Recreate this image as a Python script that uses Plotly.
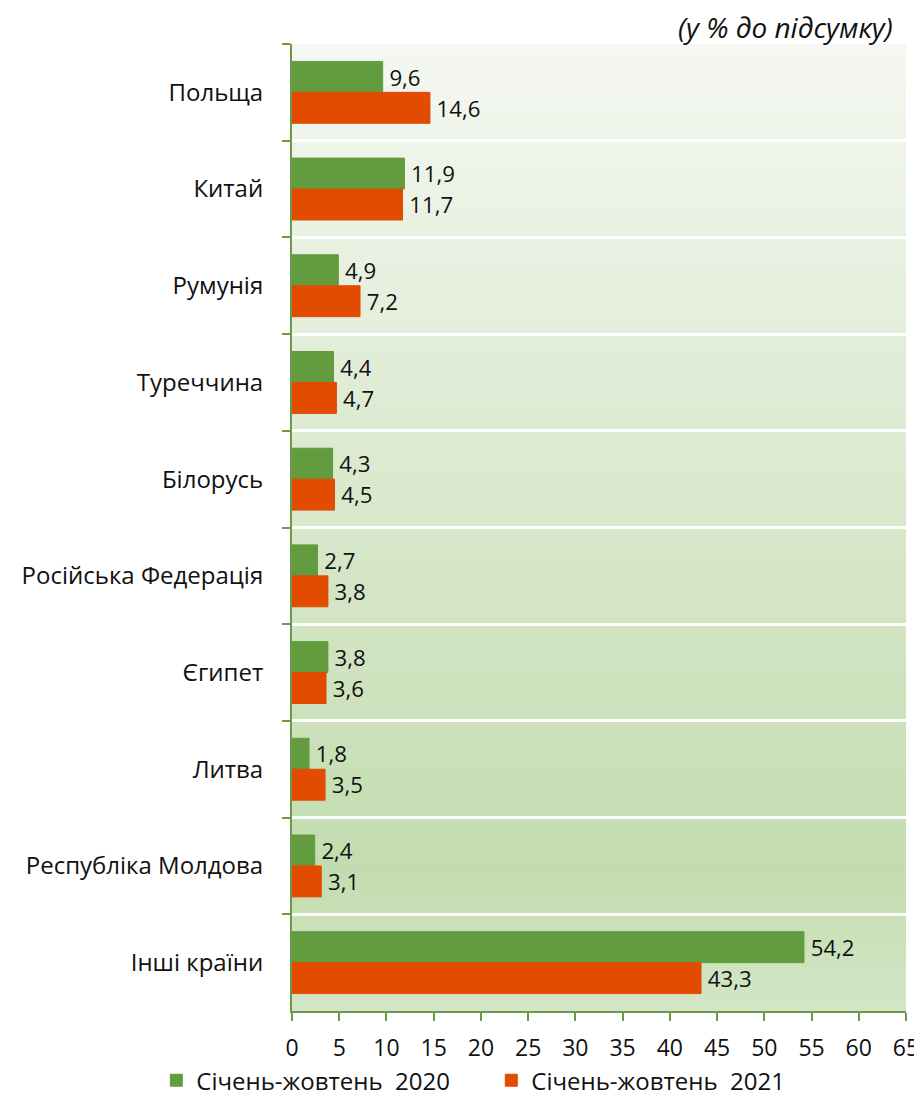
import plotly.graph_objects as go

# ── Data ──────────────────────────────────────────────────────────────────
countries = [
    "Польща", "Китай", "Румунія", "Туреччина", "Білорусь",
    "Російська Федерація", "Єгипет", "Литва", "Республіка Молдова", "Інші країни",
]
share_2020 = [9.6, 11.9, 4.9, 4.4, 4.3, 2.7, 3.8, 1.8, 2.4, 54.2]
share_2021 = [14.6, 11.7, 7.2, 4.7, 4.5, 3.8, 3.6, 3.5, 3.1, 43.3]
series_names = ["Січень-жовтень  2020", "Січень-жовтень  2021"]

GREEN = "#639b3f"
ORANGE = "#e24b00"
AXIS = "#6a9a48"
FONT = "'Open Sans', sans-serif"
FS = 24


def fmt(v):
    return "\u2009" + f"{v:.1f}".replace(".", ",")


def mix(c1, c2, t):
    a = [int(c1[i:i + 2], 16) for i in (1, 3, 5)]
    b = [int(c2[i:i + 2], 16) for i in (1, 3, 5)]
    return "#" + "".join(f"{round(x + (y - x) * t):02x}" for x, y in zip(a, b))


def bg_color(t):
    # t = 0 at top of plot area, 1 at bottom
    stops = [(0.0, "#f5f8f2"), (0.85, "#c3dcaf"), (1.0, "#d3e6c6")]
    for (t0, c0), (t1, c1) in zip(stops, stops[1:]):
        if t <= t1:
            return mix(c0, c1, (t - t0) / (t1 - t0))
    return stops[-1][1]


fig = go.Figure()

for name, vals, color in [(series_names[0], share_2020, GREEN),
                          (series_names[1], share_2021, ORANGE)]:
    fig.add_trace(go.Bar(
        y=countries,
        x=vals,
        orientation="h",
        name=name,
        marker=dict(color=color, line=dict(color=color, width=1)),
        text=[fmt(v) for v in vals],
        textposition="outside",
        textfont=dict(size=23, color="#111111", family=FONT),
        cliponaxis=False,
    ))

# gradient plot background as thin strips
N = 160
shapes = []
for i in range(N):
    shapes.append(dict(
        type="rect", xref="x domain", yref="y domain", layer="below",
        x0=0, x1=1, y0=1 - i / N, y1=1 - (i + 1) / N - 0.001,
        fillcolor=bg_color((i + 0.5) / N), line=dict(width=0),
    ))

# page body has an 8px margin, so the figure is 8px smaller than the window
fig.update_layout(
    width=914, height=1103,
    barmode="group",
    bargap=0.36,
    bargroupgap=0,
    shapes=shapes,
    plot_bgcolor="rgba(0,0,0,0)",
    paper_bgcolor="white",
    font=dict(family=FONT, size=FS, color="#111111"),
    margin=dict(l=284, r=16, t=36, b=100, autoexpand=False),
    xaxis=dict(
        range=[0, 65], dtick=5, tick0=0, automargin=False,
        showgrid=False, zeroline=False,
        showline=True, linecolor=AXIS, linewidth=2,
        ticks="outside", ticklen=8, tickcolor=AXIS, tickwidth=2,
        ticklabelstandoff=7,
        tickfont=dict(size=23),
    ),
    yaxis=dict(
        autorange="reversed", automargin=False,
        showgrid=True, gridcolor="white", gridwidth=3,
        tickson="boundaries",
        showline=True, linecolor=AXIS, linewidth=2,
        ticks="outside", ticklen=8, tickcolor=AXIS, tickwidth=2,
        ticklabelstandoff=22,
        tickfont=dict(size=FS),
    ),
    legend=dict(
        orientation="h", x=-0.221, xanchor="left", y=-0.072, yanchor="middle",
        entrywidth=290, entrywidthmode="pixels",
        bgcolor="rgba(0,0,0,0)",
        font=dict(size=FS), traceorder="normal",
    ),
    annotations=[dict(
        text="<i>(у % до підсумку)</i>", xref="paper", yref="paper",
        x=0.982, y=1.0, xanchor="right", yanchor="middle", yshift=17,
        showarrow=False, font=dict(size=28, color="#111111"),
    )],
)

fig.write_html("out.html")
